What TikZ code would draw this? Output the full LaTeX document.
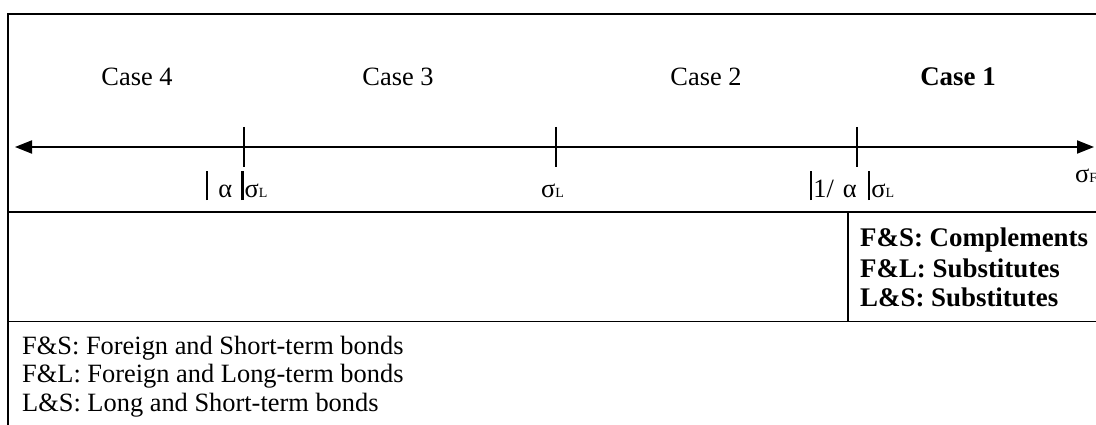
\documentclass[tikz,border=0pt]{standalone}
\usepackage{fontspec}
\setmainfont{Liberation Serif}
\usetikzlibrary{arrows.meta}
\newcommand{\absbar}{\rule[-2pt]{2.6pt}{29pt}}
\newcommand{\subL}[1]{{\fontsize{14}{14}\selectfont #1}}
\begin{document}
\begin{tikzpicture}[x=1pt,y=-1pt,
  frame/.style={line width=1.4pt},
  axis/.style={line width=2pt,{Triangle[length=17pt,width=13pt]}-{Triangle[length=17pt,width=13pt]}},
  tick/.style={line width=2pt},
  txt/.style={inner sep=0pt,font=\fontsize{26.4}{30}\selectfont},
  btxt/.style={inner sep=0pt,font=\fontsize{26.9}{30}\selectfont\bfseries}]
\useasboundingbox (0,0) rectangle (1096,425);
\clip (0,0) rectangle (1096,425);
% frame
\draw[frame] (8,14) rectangle (1110,440);
\coordinate (h1l) at (8,212); \coordinate (h1r) at (1110,212);
\coordinate (h2l) at (8,321.5); \coordinate (h2r) at (1110,321.5);
\coordinate (vt) at (848,212); \coordinate (vb) at (848,321.5);
\draw[frame] (h1l) -- (h1r);
\draw[frame] (h2l) -- (h2r);
\draw[frame] (vt) -- (vb);
% cases
\node[txt,anchor=base] (c4) at (137,86) {Case 4};
\node[txt,anchor=base] (c3) at (398,86) {Case 3};
\node[txt,anchor=base] (c2) at (706,86) {Case 2};
\node[btxt,anchor=base] (c1) at (958,86) {Case 1};
% axis
\coordinate (al) at (15,147); \coordinate (ar) at (1094,147);
\draw[axis] (al) -- (ar);
\foreach \x/\n in {244/t1,556/t2,857/t3}{
  \coordinate (\n a) at (\x,127); \coordinate (\n b) at (\x,167);
  \draw[tick] (\n a) -- (\n b);
}
% labels under axis
\node[txt,anchor=base west] (l1) at (205.5,198) {\absbar\hspace{10pt}α\hspace{9pt}\absbar\hspace{1pt}σ\subL{L}};
\node[txt,anchor=base west] (l2) at (541,198) {σ\subL{L}};
\node[txt,anchor=base west] (l3) at (809.5,198) {\absbar\hspace{1pt}1/\hspace{9pt}α\hspace{11pt}\absbar\hspace{1pt}σ\subL{L}};
\node[txt,anchor=base west] (l4) at (1075,183) {σ\subL{F}};
% right cell
\node[btxt,anchor=base west] (r1) at (860,247) {F\&S: Complements};
\node[btxt,anchor=base west] (r2) at (860,277) {F\&L: Substitutes};
\node[btxt,anchor=base west] (r3) at (860,306) {L\&S: Substitutes};
% legend
\node[txt,anchor=base west] (g1) at (22,354) {F\&S: Foreign and Short-term bonds};
\node[txt,anchor=base west] (g2) at (22,382) {F\&L: Foreign and Long-term bonds};
\node[txt,anchor=base west] (g3) at (22,411) {L\&S: Long and Short-term bonds};
\end{tikzpicture}
\end{document}
